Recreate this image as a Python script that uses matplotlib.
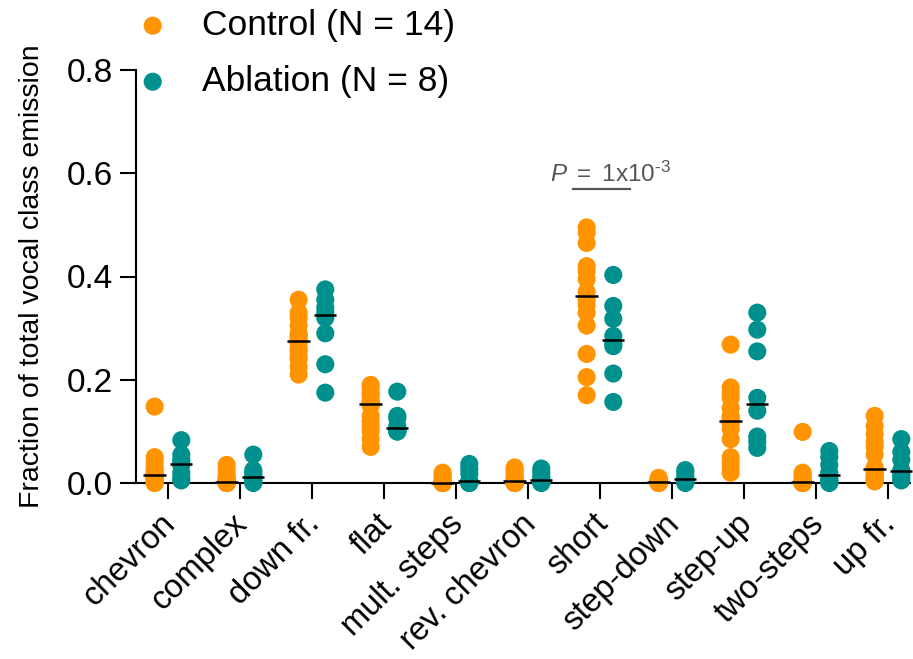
import numpy as np
import matplotlib
matplotlib.use("Agg")
import matplotlib.pyplot as plt
import matplotlib.transforms as mtransforms

plt.rcParams["font.family"] = ["Liberation Sans", "DejaVu Sans"]
plt.rcParams["mathtext.fontset"] = "custom"
plt.rcParams["mathtext.rm"] = "Liberation Sans"
plt.rcParams["mathtext.it"] = "Liberation Sans:italic"

categories = ["chevron", "complex", "down fr.", "flat", "mult. steps", "rev. chevron",
              "short", "step-down", "step-up", "two-steps", "up fr."]

# fraction of total emission per animal, Control (N = 14)
control = [
    [0.148, 0.05, 0.04, 0.03, 0.025, 0.02, 0.015, 0.015, 0.01, 0.01, 0.005, 0.005, 0.0, 0.0],
    [0.035, 0.025, 0.015, 0.01, 0.005, 0.005, 0.003, 0.002, 0.001, 0.0, 0.0, 0.0, 0.0, 0.0],
    [0.355, 0.33, 0.32, 0.305, 0.29, 0.285, 0.28, 0.27, 0.26, 0.255, 0.245, 0.24, 0.225, 0.21],
    [0.19, 0.185, 0.175, 0.17, 0.16, 0.155, 0.155, 0.15, 0.13, 0.12, 0.11, 0.1, 0.085, 0.07],
    [0.02, 0.015, 0.01, 0.005, 0.003, 0.002, 0.001, 0.0, 0.0, 0.0, 0.0, 0.0, 0.0, 0.0],
    [0.03, 0.025, 0.02, 0.012, 0.008, 0.005, 0.004, 0.002, 0.001, 0.0, 0.0, 0.0, 0.0, 0.0],
    [0.495, 0.485, 0.465, 0.42, 0.41, 0.395, 0.37, 0.355, 0.345, 0.33, 0.305, 0.25, 0.205, 0.17],
    [0.01, 0.007, 0.005, 0.004, 0.003, 0.002, 0.002, 0.002, 0.001, 0.001, 0.0, 0.0, 0.0, 0.0],
    [0.268, 0.185, 0.175, 0.165, 0.145, 0.13, 0.125, 0.115, 0.105, 0.085, 0.05, 0.04, 0.03, 0.02],
    [0.099, 0.02, 0.015, 0.01, 0.005, 0.003, 0.002, 0.001, 0.0, 0.0, 0.0, 0.0, 0.0, 0.0],
    [0.13, 0.11, 0.095, 0.08, 0.07, 0.055, 0.03, 0.025, 0.02, 0.015, 0.01, 0.008, 0.005, 0.003],
]

# Ablation (N = 8)
ablation = [
    [0.083, 0.055, 0.045, 0.04, 0.035, 0.02, 0.01, 0.005],
    [0.055, 0.025, 0.02, 0.015, 0.01, 0.005, 0.003, 0.0],
    [0.375, 0.355, 0.34, 0.33, 0.32, 0.29, 0.23, 0.175],
    [0.177, 0.13, 0.125, 0.11, 0.105, 0.1, 0.1, 0.1],
    [0.037, 0.028, 0.018, 0.004, 0.002, 0.001, 0.0, 0.0],
    [0.028, 0.02, 0.012, 0.007, 0.005, 0.003, 0.001, 0.0],
    [0.403, 0.343, 0.318, 0.285, 0.27, 0.265, 0.212, 0.157],
    [0.025, 0.02, 0.012, 0.008, 0.006, 0.004, 0.002, 0.0],
    [0.33, 0.297, 0.255, 0.165, 0.14, 0.09, 0.08, 0.068],
    [0.062, 0.05, 0.035, 0.02, 0.01, 0.005, 0.003, 0.0],
    [0.085, 0.06, 0.045, 0.025, 0.02, 0.015, 0.01, 0.005],
]

groups = [("Control (N = 14)", control, "#FF9400", -0.185),
          ("Ablation (N = 8)", ablation, "#00918F", 0.185)]

fig = plt.figure(figsize=(9.13, 6.59), dpi=100)
ax = fig.add_axes([136 / 913, 1 - 483 / 659, (910 - 136) / 913, (483 - 70) / 659])

handles = []
for label, data, color, off in groups:
    for i, vals in enumerate(data):
        h = ax.scatter(np.full(len(vals), i + off), vals, s=170, color=color,
                       edgecolors="none", clip_on=False, zorder=3, label=label if i == 0 else None)
        if i == 0:
            handles.append(h)
        med = np.median(vals)
        ax.plot([i + off - 0.155, i + off + 0.155], [med, med], color="black",
                lw=1.8, solid_capstyle="butt", clip_on=False, zorder=4)

# significance bar over "short"
ax.plot([5.625, 6.417], [0.570, 0.570], color="#555555", lw=1.6, zorder=2)
ax.text(6.15, 0.584, r"$\mathit{P}\ \mathrm{=\ 1x10}^{\text{-3}}$", ha="center", va="baseline",
        fontsize=17.5, color="#555555")

ax.set_xlim(-0.444, 10.306)
ax.set_ylim(0, 0.8)
ax.set_yticks([0.0, 0.2, 0.4, 0.6, 0.8])
ax.set_yticklabels(["0.0", "0.2", "0.4", "0.6", "0.8"])
ax.set_xticks(range(len(categories)))
ax.set_xticklabels(categories, rotation=45, ha="right", va="top", rotation_mode="anchor")
ax.tick_params(axis="y", labelsize=24, length=11.5, width=1.5, pad=5)
ax.tick_params(axis="x", labelsize=23.5, length=11.5, width=1.5, pad=6)
shift = mtransforms.ScaledTranslation(-8 / 100, -1 / 100, fig.dpi_scale_trans)
for lab in ax.get_xticklabels():
    lab.set_transform(lab.get_transform() + shift)
ax.set_ylabel("Fraction of total vocal class emission", fontsize=20.5, labelpad=16)

for s in ("top", "right"):
    ax.spines[s].set_visible(False)
for s in ("left", "bottom"):
    ax.spines[s].set_linewidth(1.5)

leg = fig.legend(handles=handles, loc="upper left", bbox_to_anchor=(135 / 913, 1 - 9 / 659),
                 frameon=False, fontsize=25.5, handlelength=1.0, handletextpad=0.9,
                 labelspacing=0.65, borderpad=0, borderaxespad=0, markerscale=1.0)

fig.savefig("out.png", dpi=100)
